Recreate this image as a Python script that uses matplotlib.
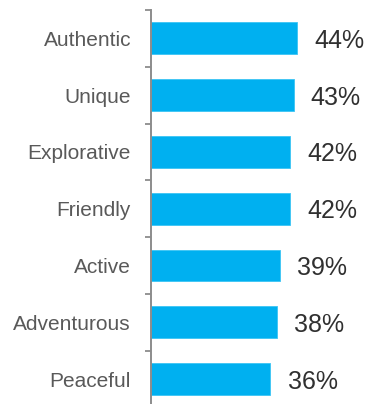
import matplotlib
matplotlib.use("Agg")
import matplotlib.pyplot as plt
import numpy as np

# traits and share of respondents
traits = ["Authentic", "Unique", "Explorative", "Friendly", "Active", "Adventurous", "Peaceful"]
shares = [44, 43, 42, 42, 39, 38, 36]

plt.rcParams["font.family"] = ["Liberation Sans", "DejaVu Sans"]

W, H = 369, 404
fig = plt.figure(figsize=(W / 100, H / 100), dpi=100)
# axes placed in pixel terms: left spine at x=151, top at y=10
left, top, bottom_px = 151, 10, 407.5
ax = fig.add_axes([left / W, (H - bottom_px) / H, (W - left) / W, (bottom_px - top) / H])

y = np.arange(len(traits))
ax.barh(y, shares, height=0.56, color="#00B0F0", edgecolor="#3CC4F4", linewidth=0.6)

for yi, v in zip(y, shares):
    ax.annotate(f"{v}%", xy=(v, yi), xytext=(12.3, 0), textcoords="offset points",
                ha="left", va="center_baseline", fontsize=18, color="#303030")

ax.set_ylim(len(traits) - 0.5, -0.5)
ax.set_xlim(0, 65.7)

ax.set_yticks(y)
ax.set_yticklabels(traits, fontsize=15, color="#595959")
ax.tick_params(axis="y", which="major", length=0, pad=14.4)
ax.set_yticks(np.arange(-0.5, len(traits)), minor=True)
ax.tick_params(axis="y", which="minor", length=4.3, width=1.3, color="#8C8C8C")
ax.set_xticks([])

for s in ["top", "right", "bottom"]:
    ax.spines[s].set_visible(False)
ax.spines["left"].set_color("#8C8C8C")
ax.spines["left"].set_linewidth(1.4)

fig.savefig("out.png", dpi=100)
